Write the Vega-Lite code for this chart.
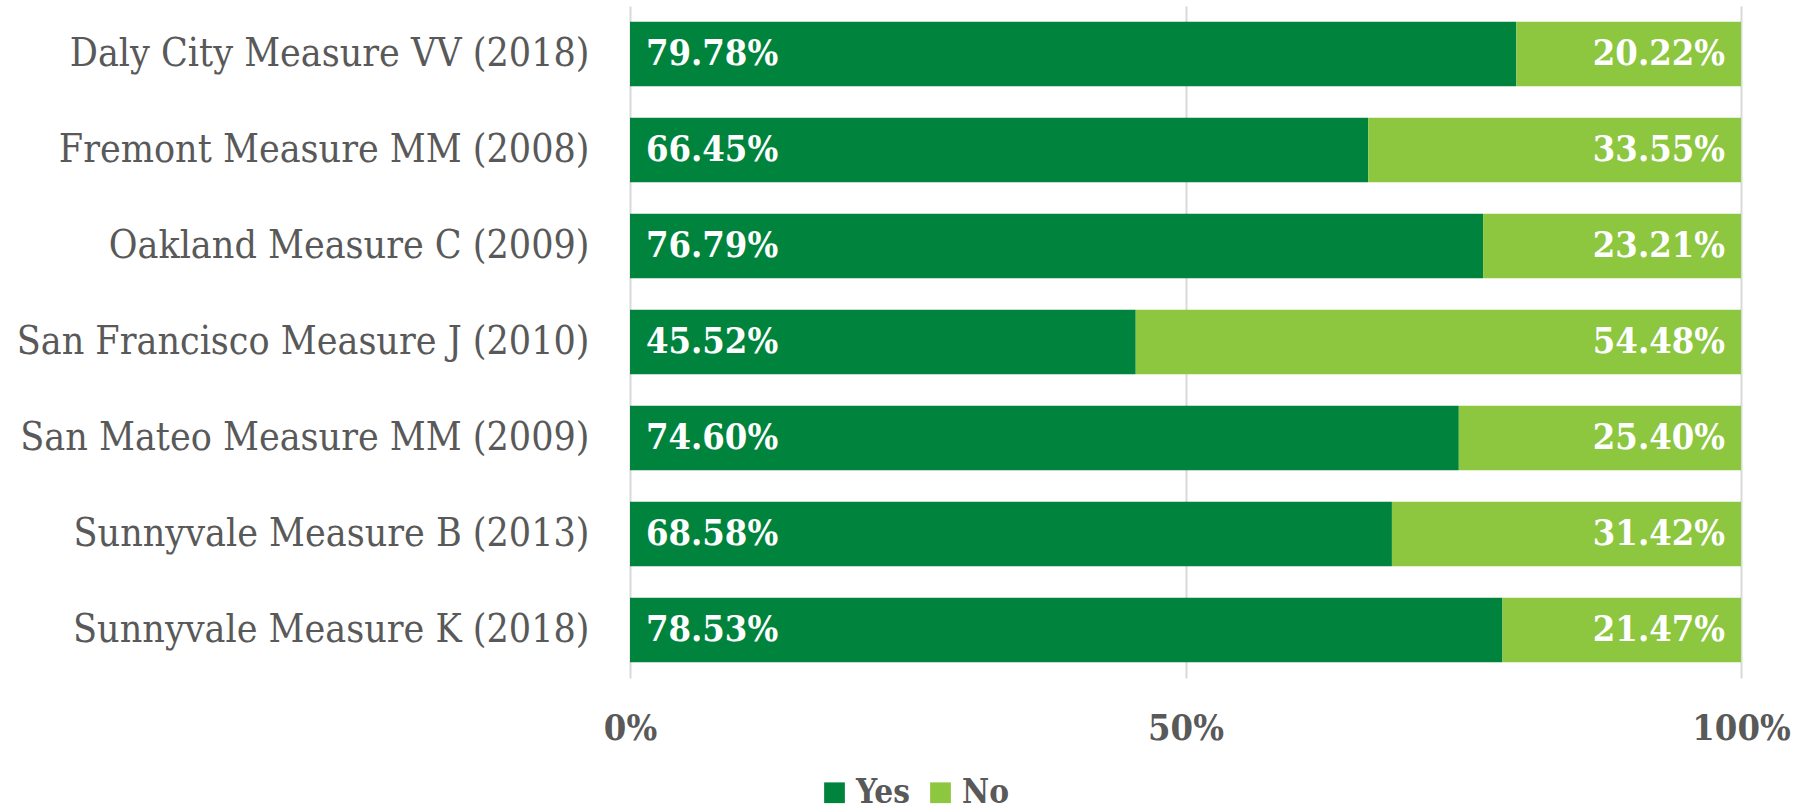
{
  "$schema": "https://vega.github.io/schema/vega-lite/v6.json",
  "width": 1111,
  "height": 672,
  "autosize": {"type": "none"},
  "padding": {"left": 630, "top": 6, "right": 62, "bottom": 134},
  "background": "white",
  "config": {"view": {"stroke": null}, "font": "'DejaVu Serif Condensed', 'DejaVu Serif', serif"},
  "data": {"values": [
    {"measure": "Daly City Measure VV (2018)", "vote": "Yes", "ord": 1, "pct": 0.7978},
    {"measure": "Daly City Measure VV (2018)", "vote": "No", "ord": 2, "pct": 0.2022},
    {"measure": "Fremont Measure MM (2008)", "vote": "Yes", "ord": 1, "pct": 0.6645},
    {"measure": "Fremont Measure MM (2008)", "vote": "No", "ord": 2, "pct": 0.3355},
    {"measure": "Oakland Measure C (2009)", "vote": "Yes", "ord": 1, "pct": 0.7679},
    {"measure": "Oakland Measure C (2009)", "vote": "No", "ord": 2, "pct": 0.2321},
    {"measure": "San Francisco Measure J (2010)", "vote": "Yes", "ord": 1, "pct": 0.4552},
    {"measure": "San Francisco Measure J (2010)", "vote": "No", "ord": 2, "pct": 0.5448},
    {"measure": "San Mateo Measure MM (2009)", "vote": "Yes", "ord": 1, "pct": 0.7460},
    {"measure": "San Mateo Measure MM (2009)", "vote": "No", "ord": 2, "pct": 0.2540},
    {"measure": "Sunnyvale Measure B (2013)", "vote": "Yes", "ord": 1, "pct": 0.6858},
    {"measure": "Sunnyvale Measure B (2013)", "vote": "No", "ord": 2, "pct": 0.3142},
    {"measure": "Sunnyvale Measure K (2018)", "vote": "Yes", "ord": 1, "pct": 0.7853},
    {"measure": "Sunnyvale Measure K (2018)", "vote": "No", "ord": 2, "pct": 0.2147}
  ]},
  "transform": [
    {"stack": "pct", "groupby": ["measure"], "sort": [{"field": "ord", "order": "ascending"}], "as": ["v0", "v1"]}
  ],
  "encoding": {
    "y": {
      "field": "measure", "type": "nominal", "sort": null,
      "scale": {"paddingInner": 0.33, "paddingOuter": 0.165},
      "axis": {"title": null, "domain": false, "ticks": false, "labelPadding": 41, "labelFontSize": 39, "labelColor": "#595959", "labelFont": "'DejaVu Serif Condensed', 'DejaVu Serif', serif", "labelLimit": 700}
    }
  },
  "layer": [
    {
      "mark": {"type": "bar"},
      "encoding": {
        "x": {
          "field": "v0", "type": "quantitative", "scale": {"domain": [0, 1]},
          "axis": {"title": null, "values": [0, 0.5, 1], "format": ".0%", "domain": false, "ticks": false, "labelPadding": 33, "labelFontSize": 36, "labelFontWeight": "bold", "labelColor": "#595959", "gridColor": "#d9d9d9", "gridWidth": 2, "labelFont": "'DejaVu Serif Condensed', 'DejaVu Serif', serif", "labelFlush": false}
        },
        "x2": {"field": "v1"},
        "color": {
          "field": "vote", "type": "nominal",
          "scale": {"domain": ["Yes", "No"], "range": ["#00843D", "#8DC63F"]},
          "legend": {"title": null, "orient": "none", "direction": "horizontal", "legendX": 188, "legendY": 770, "symbolType": "square", "symbolSize": 430, "symbolStrokeWidth": 0, "labelFontSize": 33, "labelFontWeight": "bold", "labelColor": "#595959", "labelFont": "'DejaVu Serif Condensed', 'DejaVu Serif', serif", "columnPadding": 14, "labelOffset": 5}
        }
      }
    },
    {
      "transform": [{"filter": "datum.vote === 'Yes'"}],
      "mark": {"type": "text", "align": "left", "baseline": "middle", "dx": 16, "fontSize": 36, "fontWeight": "bold", "color": "white"},
      "encoding": {
        "x": {"field": "v0", "type": "quantitative"},
        "text": {"field": "pct", "type": "quantitative", "format": ".2%"}
      }
    },
    {
      "transform": [{"filter": "datum.vote === 'No'"}],
      "mark": {"type": "text", "align": "right", "baseline": "middle", "dx": -16, "fontSize": 36, "fontWeight": "bold", "color": "white"},
      "encoding": {
        "x": {"field": "v1", "type": "quantitative"},
        "text": {"field": "pct", "type": "quantitative", "format": ".2%"}
      }
    }
  ]
}
